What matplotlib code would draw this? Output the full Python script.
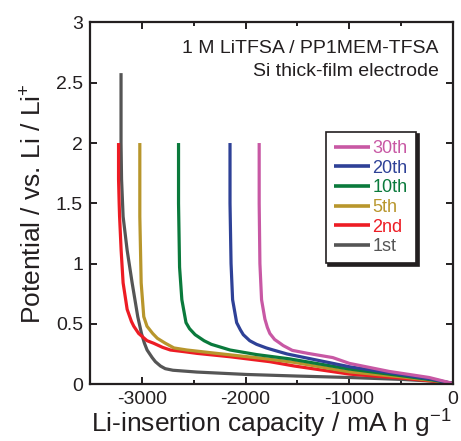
import matplotlib
matplotlib.use("Agg")
import matplotlib.pyplot as plt
from matplotlib.ticker import MultipleLocator

plt.rcParams['font.family'] = ['Liberation Sans', 'DejaVu Sans']
plt.rcParams['mathtext.fontset'] = 'custom'
plt.rcParams['mathtext.rm'] = 'Liberation Sans'
plt.rcParams['mathtext.it'] = 'Liberation Sans'

# ---- data ----
labels = ['1st', '2nd', '5th', '10th', '20th', '30th']
colors = ['#555555', '#ed1c24', '#b8962c', '#0a7a3c', '#2e4197', '#c858a4']

cap_1st = [-3200, -3200, -3195, -3180, -3141, -3093, -3039, -3003, -2975, -2949, -2900, -2869,
           -2820, -2774, -2700, -2469, -1990, -1510, -1000, -500, -200, 0]
pot_1st = [2.58, 2.0, 1.7, 1.39, 1.11, 0.84, 0.56, 0.42, 0.34, 0.283, 0.22, 0.186,
           0.15, 0.128, 0.115, 0.10, 0.08, 0.067, 0.055, 0.039, 0.025, 0.005]

cap_2nd = [-3224, -3224, -3218, -3214, -3199, -3180, -3141, -3100, -3077, -3030, -2949, -2886,
           -2800, -2725, -2600, -2469, -2150, -1766, -1530, -1000, -500, -200, 0]
pot_2nd = [2.0, 1.7, 1.5, 1.39, 1.11, 0.84, 0.62, 0.52, 0.48, 0.42, 0.36, 0.339,
           0.305, 0.283, 0.27, 0.255, 0.227, 0.186, 0.15, 0.083, 0.05, 0.025, 0.005]

cap_5th = [-3019, -3019, -3006, -2981, -2950, -2895, -2850, -2775, -2690, -2566, -2278, -1830,
           -1530, -1000, -500, -200, 0]
pot_5th = [2.0, 1.39, 0.84, 0.56, 0.48, 0.42, 0.38, 0.34, 0.30, 0.283, 0.255, 0.213,
           0.18, 0.102, 0.06, 0.03, 0.005]

cap_10th = [-2646, -2646, -2636, -2614, -2574, -2540, -2486, -2400, -2330, -2150, -1894, -1580,
            -1000, -500, -200, 0]
pot_10th = [2.0, 1.5, 0.97, 0.70, 0.51, 0.46, 0.41, 0.36, 0.33, 0.283, 0.245, 0.21,
            0.125, 0.07, 0.035, 0.005]

cap_20th = [-2150, -2150, -2140, -2125, -2086, -2050, -2022, -1960, -1894, -1800, -1734, -1600,
            -1000, -500, -200, 0]
pot_20th = [2.0, 1.5, 1.0, 0.70, 0.51, 0.45, 0.41, 0.36, 0.33, 0.30, 0.283, 0.25,
            0.144, 0.08, 0.04, 0.005]

cap_30th = [-1869, -1869, -1862, -1846, -1814, -1790, -1766, -1720, -1670, -1638, -1550, -1400,
            -1160, -1000, -615, -232, 0]
pot_30th = [2.0, 1.5, 1.0, 0.70, 0.54, 0.47, 0.42, 0.37, 0.34, 0.32, 0.28, 0.255,
            0.22, 0.172, 0.105, 0.055, 0.005]

caps = [cap_1st, cap_2nd, cap_5th, cap_10th, cap_20th, cap_30th]
pots = [pot_1st, pot_2nd, pot_5th, pot_10th, pot_20th, pot_30th]

xticks = [-3000, -2000, -1000, 0]
yticks = [0, 0.5, 1, 1.5, 2, 2.5, 3]
ytick_labels = ['0', '0.5', '1', '1.5', '2', '2.5', '3']

# ---- figure ----
fig = plt.figure(figsize=(4.61, 4.41), dpi=100)
ax = fig.add_axes([0.195, 0.129, 0.788, 0.820])
txtc = '#231f20'

handles = []
for c, p, lab, col in zip(caps, pots, labels, colors):
    h, = ax.plot(c, p, color=col, lw=2.3, label=lab, solid_capstyle='butt')
    handles.append(h)

ax.set_xlim(-3500, 0)
ax.set_ylim(0, 3)
ax.set_xticks(xticks)
ax.set_xticklabels([str(t) for t in xticks])
ax.xaxis.set_minor_locator(MultipleLocator(500))
ax.set_yticks(yticks)
ax.set_yticklabels(ytick_labels)
ax.tick_params(which='both', direction='in', top=True, right=True, colors=txtc,
               labelsize=14, width=1.4)
ax.tick_params(which='major', length=5, pad=5)
ax.tick_params(which='minor', length=3)
for s in ax.spines.values():
    s.set_linewidth(1.6)
    s.set_color(txtc)

ax.set_xlabel(r'Li-insertion capacity / mA h g$^{\mathregular{-1}}$', fontsize=19, color=txtc, labelpad=0)
ax.set_ylabel(r'Potential / vs. Li / Li$^{\mathregular{+}}$', fontsize=19, color=txtc, labelpad=7)

ax.text(0.96, 0.929, '1 M LiTFSA / PP1MEM-TFSA', transform=ax.transAxes, ha='right', va='center',
        fontsize=14, color=txtc)
ax.text(0.96, 0.864, 'Si thick-film electrode', transform=ax.transAxes, ha='right', va='center',
        fontsize=14, color=txtc)

leg = ax.legend(handles[::-1], labels[::-1], loc='upper left', bbox_to_anchor=(0.649, 0.698),
                borderaxespad=0, fontsize=13, labelcolor='linecolor', fancybox=False,
                edgecolor=txtc, handlelength=2.0, handletextpad=0.15, labelspacing=0.15,
                borderpad=0.45, framealpha=1,
                shadow={'color': '#231f20', 'alpha': 1, 'ox': 2, 'oy': -2})
leg.get_frame().set_linewidth(1.2)
for lh in leg.get_lines():
    lh.set_linewidth(2.6)

fig.savefig('out.png', dpi=100)
